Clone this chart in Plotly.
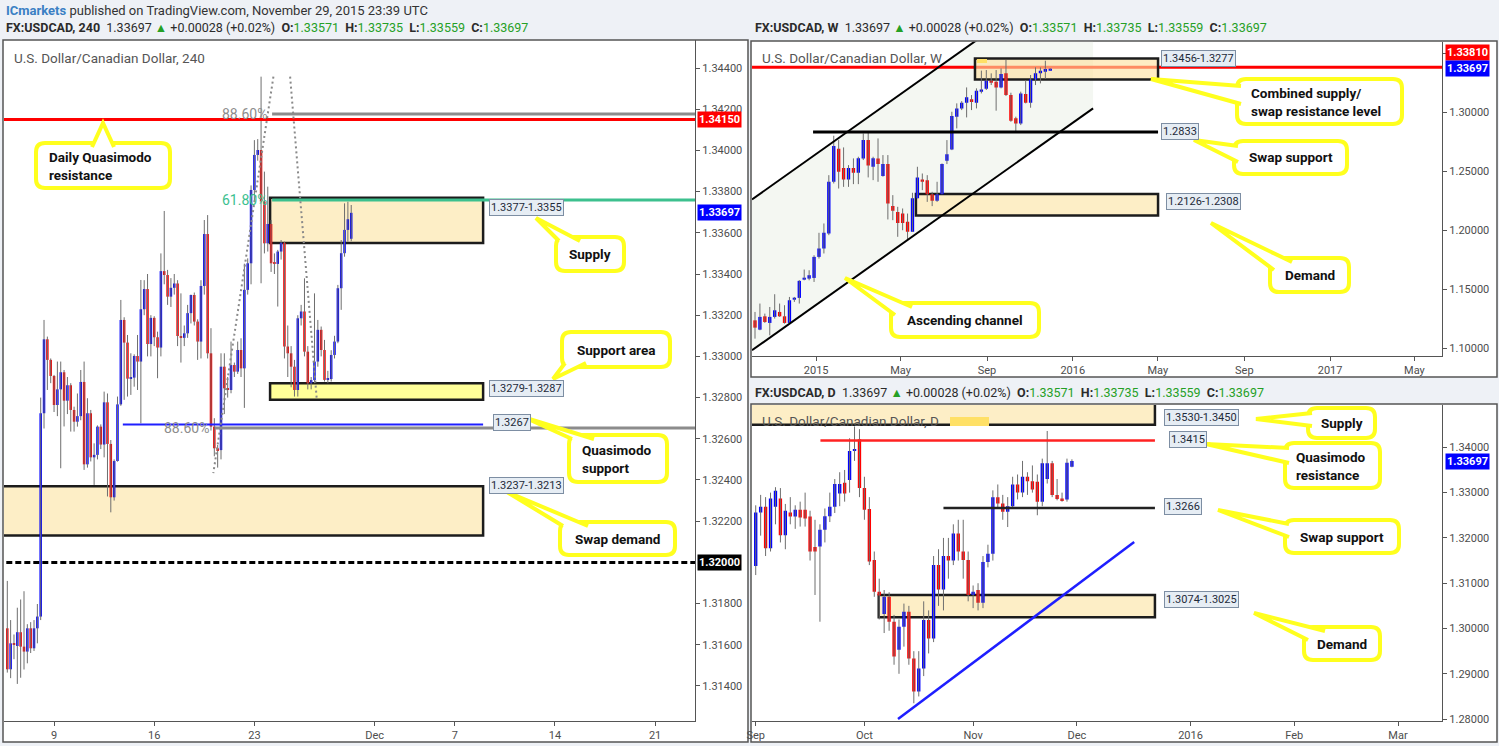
import numpy as np
import plotly.graph_objects as go

W, H = 1499, 746
FONT = "Roboto, 'Open Sans', sans-serif"
BOLDFONT = "Roboto, 'Open Sans', sans-serif"

# ---------------- 4H data (bar index 0 = first bar shown) ----------------
h4_open = [1.31680,1.31481,1.31607,1.31594,1.31661,1.31591,1.31567,1.31680,1.31583,1.31680,
1.31737,1.32724,1.33083,1.32983,1.32905,1.32764,1.32840,1.32923,1.32785,1.32860,
1.32740,1.32683,1.32710,1.32876,1.32476,1.32724,1.32510,1.32522,1.32659,1.32572,
1.32777,1.32575,1.32316,1.32492,1.32767,1.33177,1.33067,1.32892,1.32897,1.33002,
1.32975,1.33229,1.33327,1.33060,1.33187,1.33093,1.33043,1.33414,1.33395,1.33290,
1.33333,1.33354,1.33099,1.33090,1.33112,1.33210,1.33298,1.33169,1.33072,1.33342,
1.33594,1.33015,1.32659,1.32554,1.32545,1.32950,1.32845,1.32837,1.32958,1.32926,
1.33031,1.32942,1.33323,1.33452,1.33808,1.33978,1.34002,1.33752,1.33549,1.33643,
1.33452,1.33449,1.33509,1.33552,1.33048,1.33015,1.32950,1.32837,1.33185,1.33218,
1.33023,1.32869,1.32885,1.32975,1.33129,1.33031,1.32886,1.32890,1.33007,1.33072,
1.33331,1.33501,1.33614,1.33571]
h4_high = [1.31910,1.31720,1.31650,1.31780,1.31820,1.31860,1.31700,1.31710,1.31720,1.31798,
1.32800,1.33177,1.33096,1.32990,1.32910,1.32975,1.32975,1.32934,1.32900,1.32870,
1.32756,1.32820,1.32934,1.32975,1.32797,1.32740,1.32578,1.32665,1.32670,1.32829,
1.32820,1.32594,1.32500,1.32805,1.33274,1.33190,1.33104,1.33015,1.33010,1.33104,
1.33371,1.33370,1.33400,1.33200,1.33195,1.33120,1.33500,1.33706,1.33420,1.33380,
1.33400,1.33370,1.33306,1.33150,1.33250,1.33300,1.33310,1.33180,1.33370,1.33662,
1.33686,1.33137,1.32700,1.32570,1.33015,1.33015,1.32900,1.33072,1.32970,1.33072,
1.33088,1.33450,1.33476,1.33830,1.34050,1.34055,1.34358,1.33897,1.33824,1.33662,
1.33500,1.33517,1.33565,1.33557,1.33150,1.33050,1.32983,1.33200,1.33250,1.33379,
1.33050,1.32900,1.33306,1.33177,1.33145,1.33080,1.32930,1.33030,1.33100,1.33347,
1.33565,1.33743,1.33751,1.33735]
h4_low = [1.31465,1.31438,1.31530,1.31410,1.31440,1.31480,1.31510,1.31560,1.31570,1.31607,
1.31720,1.32650,1.32837,1.32870,1.32730,1.32710,1.32457,1.32660,1.32720,1.32635,
1.32635,1.32659,1.32690,1.32449,1.32460,1.32490,1.32376,1.32500,1.32550,1.32510,
1.32320,1.32243,1.32300,1.32489,1.32760,1.32789,1.32805,1.32813,1.32853,1.32837,
1.32675,1.33200,1.33000,1.33000,1.33050,1.32894,1.33000,1.33350,1.33250,1.33240,
1.33300,1.33050,1.32970,1.33050,1.33090,1.33160,1.33150,1.32983,1.32990,1.33300,
1.32990,1.32640,1.32515,1.32460,1.32500,1.32720,1.32800,1.32821,1.32900,1.32915,
1.32900,1.32750,1.33300,1.33350,1.33750,1.33950,1.33355,1.33500,1.33509,1.33410,
1.33400,1.33242,1.33470,1.32990,1.32900,1.32850,1.32805,1.32805,1.33150,1.33000,
1.32840,1.32840,1.32870,1.32950,1.33000,1.32878,1.32870,1.32878,1.32990,1.33064,
1.33226,1.33484,1.33557,1.33559]
h4_close = [1.31481,1.31607,1.31599,1.31661,1.31591,1.31567,1.31680,1.31583,1.31680,1.31737,
1.32724,1.33083,1.32983,1.32905,1.32764,1.32840,1.32923,1.32785,1.32860,1.32740,
1.32683,1.32710,1.32876,1.32476,1.32724,1.32510,1.32522,1.32659,1.32572,1.32777,
1.32575,1.32316,1.32492,1.32767,1.33177,1.33067,1.32892,1.32897,1.33002,1.32975,
1.33229,1.33327,1.33060,1.33187,1.33093,1.33043,1.33414,1.33395,1.33290,1.33333,
1.33354,1.33099,1.33090,1.33112,1.33210,1.33298,1.33169,1.33072,1.33342,1.33594,
1.33015,1.32659,1.32554,1.32545,1.32950,1.32845,1.32837,1.32958,1.32926,1.33031,
1.32942,1.33323,1.33452,1.33808,1.33978,1.34002,1.33752,1.33549,1.33643,1.33452,
1.33449,1.33509,1.33552,1.33048,1.33015,1.32950,1.32837,1.33185,1.33218,1.33023,
1.32869,1.32885,1.32975,1.33129,1.33031,1.32886,1.32890,1.33007,1.33072,1.33331,
1.33501,1.33614,1.33666,1.33697]
h4_tick_dates = ["2015-11-09", "2015-11-16", "2015-11-23", "2015-12-01", "2015-12-07", "2015-12-14", "2015-12-21"]
h4_tick_text = ["9", "16", "23", "Dec", "7", "14", "21"]
h4_y_ticks = [1.314, 1.316, 1.318, 1.322, 1.324, 1.326, 1.328, 1.330, 1.332, 1.334, 1.336, 1.338, 1.340, 1.342, 1.344]

# ---------------- Weekly data (week 0 = 2014-10-06) ----------------
w_open = [1.1239,1.1160,1.1273,1.1217,1.1268,1.1310,1.1273,1.1217,1.1420,1.1429,
1.1584,1.1592,1.1598,1.1776,1.1847,1.1974,1.2412,1.2692,1.2528,1.2432,
1.2528,1.2488,1.2610,1.2765,1.2539,1.2610,1.2460,1.2562,1.2206,1.2157,
1.2143,1.2073,1.1988,1.2273,1.2432,1.2426,1.2307,1.2251,1.2307,1.2590,
1.2686,1.2963,1.3033,1.3081,1.3110,1.3081,1.3183,1.3200,1.3268,1.3259,
1.3211,1.3330,1.3146,1.2949,1.2906,1.3155,1.3081,1.3279,1.3330,1.3352,
1.33571]
w_high = [1.1310,1.1381,1.1296,1.1352,1.1460,1.1381,1.1367,1.1437,1.1437,1.1580,
1.1669,1.1663,1.1790,1.1980,1.2059,1.2468,1.2802,1.2765,1.2703,1.2553,
1.2610,1.2624,1.2821,1.2827,1.2624,1.2779,1.2638,1.2638,1.2299,1.2200,
1.2186,1.2143,1.2319,1.2539,1.2482,1.2468,1.2327,1.2412,1.2567,1.2765,
1.3005,1.3076,1.3095,1.3211,1.3146,1.3203,1.3353,1.3358,1.3330,1.3358,
1.3372,1.3443,1.3166,1.2963,1.3175,1.3273,1.3316,1.3381,1.3380,1.3437,
1.33735]
w_low = [1.1084,1.1155,1.1217,1.1112,1.1254,1.1268,1.1211,1.1211,1.1395,1.1381,
1.1578,1.1578,1.1564,1.1762,1.1805,1.1960,1.2398,1.2355,1.2369,1.2369,
1.2392,1.2392,1.2596,1.2449,1.2426,1.2412,1.2455,1.2093,1.2087,1.1946,
1.2002,1.1926,1.1988,1.2273,1.2341,1.2242,1.2206,1.2242,1.2307,1.2562,
1.2680,1.2864,1.3019,1.2957,1.3019,1.3033,1.3160,1.3189,1.3231,1.3014,
1.3203,1.3138,1.2920,1.2836,1.2892,1.3076,1.3039,1.3231,1.3245,1.3284,
1.33559]
w_close = [1.1177,1.1268,1.1225,1.1268,1.1324,1.1273,1.1217,1.1409,1.1429,1.1573,
1.1592,1.1621,1.1776,1.1847,1.1980,1.2412,1.2714,1.2497,1.2432,1.2528,
1.2488,1.2612,1.2765,1.2550,1.2612,1.2562,1.2562,1.2228,1.2166,1.2064,
1.2064,1.1988,1.2273,1.2449,1.2420,1.2307,1.2251,1.2307,1.2562,1.2646,
1.2968,1.3033,1.3081,1.3127,1.3087,1.3183,1.3194,1.3268,1.3251,1.3211,
1.3324,1.3146,1.2929,1.2906,1.3160,1.3081,1.3279,1.3330,1.3352,1.3367,
1.33697]
w_first_week = "2014-10-06"
w_tick_dates = ["2015-01-01", "2015-05-01", "2015-09-01", "2016-01-01", "2016-05-01", "2016-09-01", "2017-01-01", "2017-05-01"]
w_tick_text = ["2015", "May", "Sep", "2016", "May", "Sep", "2017", "May"]
w_y_ticks = [1.10, 1.15, 1.20, 1.25, 1.30, 1.35]

# ---------------- Daily data (trading day 0 = 2015-09-01) ----------------
d_open = [1.3138,1.3256,1.3269,1.3177,1.3269,1.3287,1.3206,1.3256,1.3247,1.3262,
1.3262,1.3247,1.3180,1.3181,1.3218,1.3248,1.3269,1.3298,1.3322,1.3328,
1.3392,1.3418,1.3310,1.3264,1.3151,1.3081,1.3032,1.3070,1.3015,1.2953,
1.3004,1.3037,1.2934,1.2861,1.2912,1.3019,1.2978,1.3140,1.3086,1.3160,
1.3150,1.3210,1.3170,1.3151,1.3074,1.3085,1.3057,1.3147,1.3165,1.3290,
1.3276,1.3258,1.3270,1.3318,1.3300,1.3335,1.3325,1.3324,1.3280,1.3330,
1.3365,1.3295,1.3287,1.3285,1.33571]
d_high = [1.3272,1.3295,1.3290,1.3300,1.3312,1.3310,1.3275,1.3290,1.3272,1.3280,
1.3300,1.3260,1.3240,1.3230,1.3265,1.3300,1.3330,1.3345,1.3350,1.3420,
1.3446,1.3440,1.3335,1.3290,1.3170,1.3110,1.3085,1.3080,1.3030,1.3020,
1.3055,1.3050,1.2950,1.2950,1.3060,1.3040,1.3160,1.3175,1.3200,1.3200,
1.3230,1.3240,1.3240,1.3170,1.3095,1.3100,1.3160,1.3185,1.3305,1.3318,
1.3295,1.3290,1.3335,1.3340,1.3370,1.3345,1.3360,1.3340,1.3375,1.3436,
1.3370,1.3330,1.3300,1.3375,1.33735]
d_low = [1.3118,1.3205,1.3160,1.3170,1.3230,1.3190,1.3175,1.3230,1.3220,1.3225,
1.3225,1.3150,1.3074,1.3015,1.3190,1.3235,1.3255,1.3270,1.3280,1.3300,
1.3370,1.3290,1.3240,1.3140,1.3070,1.3020,1.2990,1.2995,1.2920,1.2900,
1.2960,1.2920,1.2835,1.2850,1.2895,1.2945,1.2970,1.3050,1.3040,1.3110,
1.3140,1.3150,1.3110,1.3060,1.3045,1.3040,1.3045,1.3135,1.3150,1.3265,
1.3240,1.3224,1.3265,1.3285,1.3290,1.3295,1.3300,1.3250,1.3270,1.3320,
1.3290,1.3283,1.3280,1.3280,1.33559]
d_close = [1.3256,1.3269,1.3177,1.3287,1.3304,1.3206,1.3260,1.3247,1.3262,1.3245,
1.3243,1.3170,1.3170,1.3218,1.3248,1.3269,1.3319,1.3319,1.3298,1.3392,
1.3394,1.3310,1.3262,1.3148,1.3081,1.3073,1.3070,1.3015,1.2938,1.3004,
1.3037,1.2934,1.2861,1.2912,1.3019,1.2978,1.3140,1.3086,1.3160,1.3150,
1.3210,1.3170,1.3151,1.3074,1.3081,1.3057,1.3147,1.3165,1.3290,1.3276,
1.3258,1.3270,1.3318,1.3300,1.3335,1.3325,1.3307,1.3280,1.3365,1.3365,
1.3295,1.3286,1.3283,1.3366,1.33697]
d_first_day = "2015-09-01"
d_tick_dates = ["2015-09-01", "2015-10-01", "2015-11-02", "2015-12-01", "2016-01-01", "2016-02-01", "2016-03-01"]
d_tick_text = ["Sep", "Oct", "Nov", "Dec", "2016", "Feb", "Mar"]
d_y_ticks = [1.28, 1.29, 1.30, 1.31, 1.32, 1.33, 1.34]

# ---------------- levels / zones (prices) ----------------
last_price = 1.33697
h4_supply = (1.3355, 1.3377)
h4_support_area = (1.3279, 1.3287)
h4_swap_demand = (1.3213, 1.3237)
h4_qm_support = 1.3267
h4_daily_qm = 1.3415
h4_round = 1.3200
h4_fib_886_hi = 1.34177
h4_fib_618 = 1.33759
h4_fib_886_lo = 1.32653
w_supply = (1.3277, 1.3456)
w_demand = (1.2126, 1.2308)
w_swap_support = 1.2833
w_red_level = 1.3381
d_supply = (1.3450, 1.3530)
d_qm_res = 1.3415
d_swap_support = 1.3266
d_demand = (1.3025, 1.3074)

# ---------------- helpers ----------------
def X(p):
    return p / W

def Y(p):
    return 1 - p / H

fig = go.Figure()


def add_candles(o, h, l, c, xs, xa, ya, width, minh):
    o, h, l, c = map(np.asarray, (o, h, l, c))
    wx, wy = [], []
    for xi, hi, lo in zip(xs, h, l):
        wx += [xi, xi, None]
        wy += [lo, hi, None]
    fig.add_trace(go.Scatter(x=wx, y=wy, mode="lines", line=dict(color="#6e6e6e", width=1),
                             xaxis=xa, yaxis=ya, hoverinfo="skip", showlegend=False))
    base = np.minimum(o, c)
    hgt = np.maximum(np.abs(c - o), minh)
    cols = np.where(c >= o, "#0000ff", "#ff0000")
    fig.add_trace(go.Bar(x=list(xs), y=hgt, base=base, width=width,
                         marker=dict(color=list(cols), line=dict(width=0)),
                         xaxis=xa, yaxis=ya, hoverinfo="skip", showlegend=False))


h4_x = np.arange(len(h4_open))
w_x = np.arange(len(w_open))
d_x = np.arange(len(d_open))

add_candles(h4_open, h4_high, h4_low, h4_close, h4_x, "x", "y", 0.75, 6e-5)
add_candles(w_open, w_high, w_low, w_close, w_x, "x2", "y2", 0.68, 9e-4)
add_candles(d_open, d_high, d_low, d_close, d_x, "x3", "y3", 0.68, 2.4e-4)

h4_tickvals = [14 + 6 * int(np.busday_count("2015-11-09", d)) for d in h4_tick_dates]
w_tickvals = [(np.datetime64(d) - np.datetime64(w_first_week)).astype(int) / 7.0 for d in w_tick_dates]
d_tickvals = [int(np.busday_count(d_first_day, d)) for d in d_tick_dates]

shapes = []
ann = []

# panel frames
for (x0, y0, x1, y1) in [(3, 40, 748, 742), (751, 41, 1497, 377), (751, 404, 1497, 742)]:
    shapes.append(dict(type="rect", xref="paper", yref="paper", x0=X(x0), x1=X(x1), y0=Y(y1), y1=Y(y0),
                       line=dict(color="#555555", width=1.5), fillcolor="white", layer="below"))

TAN = "#fdeec6"
BOXLINE = dict(color="#1c1c1c", width=2.5)

# ---- 4H drawings ----
shapes += [
    dict(type="rect", xref="x", yref="y", x0=78.7, x1=142.5, y0=h4_supply[0], y1=h4_supply[1],
         fillcolor=TAN, line=BOXLINE, layer="below"),
    dict(type="rect", xref="x", yref="y", x0=78.7, x1=142.5, y0=h4_support_area[0], y1=h4_support_area[1],
         fillcolor="#ffff99", line=BOXLINE, layer="below"),
    dict(type="rect", xref="x", yref="y", x0=-3, x1=142.5, y0=h4_swap_demand[0], y1=h4_swap_demand[1],
         fillcolor=TAN, line=BOXLINE, layer="below"),
    dict(type="line", xref="x", yref="y", x0=-3, x1=210, y0=h4_daily_qm, y1=h4_daily_qm,
         line=dict(color="#ff0000", width=3)),
    dict(type="line", xref="x", yref="y", x0=-3, x1=210, y0=h4_round, y1=h4_round,
         line=dict(color="#000000", width=3, dash="6px,3px")),
    dict(type="line", xref="x", yref="y", x0=79.3, x1=210, y0=h4_fib_886_hi, y1=h4_fib_886_hi,
         line=dict(color="#8c8c8c", width=3)),
    dict(type="line", xref="x", yref="y", x0=79.3, x1=210, y0=h4_fib_618, y1=h4_fib_618,
         line=dict(color="#3cc08e", width=3)),
    dict(type="line", xref="x", yref="y", x0=62.2, x1=210, y0=h4_fib_886_lo, y1=h4_fib_886_lo,
         line=dict(color="#8c8c8c", width=3)),
    dict(type="line", xref="x", yref="y", x0=34.6, x1=142.5, y0=h4_qm_support, y1=h4_qm_support,
         line=dict(color="#1f1fff", width=2)),
    dict(type="line", xref="x", yref="y", x0=79.7, x1=61.7, y0=1.34358, y1=1.32433,
         line=dict(color="#8a8a8a", width=2, dash="2px,3px")),
    dict(type="line", xref="x", yref="y", x0=84.7, x1=92.7, y0=1.34358, y1=1.32788,
         line=dict(color="#8a8a8a", width=2, dash="2px,3px")),
]

# ---- Weekly drawings ----
ch_path = "M -0.61,1.22624 L 44.51,1.3598 L 68.70,1.3598 L 68.70,1.30335 L -0.61,1.09853 Z"
shapes += [
    dict(type="path", xref="x2", yref="y2", path=ch_path, fillcolor="#f4f7f2", line=dict(width=0), layer="below"),
    dict(type="line", xref="x2", yref="y2", x0=-3, x1=160, y0=w_red_level, y1=w_red_level,
         line=dict(color="#ff0000", width=3), layer="below"),
    dict(type="rect", xref="x2", yref="y2", x0=44.7, x1=81.9, y0=w_supply[0], y1=w_supply[1],
         fillcolor="rgba(253,224,160,0.62)", line=BOXLINE, layer="below"),
    dict(type="rect", xref="x2", yref="y2", x0=32.7, x1=81.9, y0=w_demand[0], y1=w_demand[1],
         fillcolor=TAN, line=BOXLINE, layer="below"),
    dict(type="line", xref="x2", yref="y2", x0=11.8, x1=81.9, y0=w_swap_support, y1=w_swap_support,
         line=dict(color="#000000", width=3)),
    dict(type="line", xref="x2", yref="y2", x0=-0.61, x1=50.0, y0=1.22624, y1=1.22624 + 50.61 * 0.002954,
         line=dict(color="#000000", width=2)),
    dict(type="line", xref="x2", yref="y2", x0=-0.61, x1=68.70, y0=1.09853, y1=1.30335,
         line=dict(color="#000000", width=2)),
    dict(type="rect", xref="paper", yref="paper", x0=X(977), x1=X(987), y0=Y(63), y1=Y(59),
         fillcolor="#ffe066", line=dict(width=0)),
]

# ---- Daily drawings ----
shapes += [
    dict(type="rect", xref="x3", yref="y3", x0=-3, x1=80.8, y0=d_supply[0], y1=d_supply[1],
         fillcolor=TAN, line=BOXLINE, layer="below"),
    dict(type="rect", xref="x3", yref="y3", x0=24.9, x1=80.8, y0=d_demand[0], y1=d_demand[1],
         fillcolor=TAN, line=BOXLINE, layer="below"),
    dict(type="line", xref="x3", yref="y3", x0=13.1, x1=80.8, y0=d_qm_res, y1=d_qm_res,
         line=dict(color="#ff2222", width=2.5)),
    dict(type="line", xref="x3", yref="y3", x0=38.0, x1=80.8, y0=d_swap_support, y1=d_swap_support,
         line=dict(color="#222222", width=2.5)),
    dict(type="line", xref="x3", yref="y3", x0=28.8, x1=76.6, y0=1.28002, y1=1.31909,
         line=dict(color="#1f1fff", width=2.5)),
    dict(type="rect", xref="paper", yref="paper", x0=X(950), x1=X(989), y0=Y(426), y1=Y(417),
         fillcolor="#ffe066", line=dict(width=0)),
]

# ---- value tags ----
def tag(xp, yp, text):
    ann.append(dict(xref="paper", yref="paper", x=X(xp), y=Y(yp), xanchor="left", yanchor="middle",
                    text=text, showarrow=False, font=dict(family=FONT, size=11, color="#1e2b3a"),
                    bgcolor="#e6edf4", bordercolor="#7d8ea3", borderwidth=1, borderpad=1))

tag(489, 207, "1.3377-1.3355")
tag(489, 388, "1.3279-1.3287")
tag(493, 422, "1.3267")
tag(489, 485, "1.3237-1.3213")
tag(1161, 58, "1.3456-1.3277")
tag(1161, 131, "1.2833")
tag(1166, 201, "1.2126-1.2308")
tag(1164, 417, "1.3530-1.3450")
tag(1169, 440, "1.3415")
tag(1164, 506, "1.3266")
tag(1164, 599, "1.3074-1.3025")

# ---- axis price labels ----
def plabel(xp, y, yref, text, bg):
    ann.append(dict(xref="paper", yref=yref, x=X(xp), y=y, xanchor="left", yanchor="middle",
                    text="<b>%s</b>" % text, showarrow=False, font=dict(family=FONT, size=11, color="white"),
                    bgcolor=bg, borderpad=1))

plabel(697, h4_daily_qm, "y", "1.34150", "#ff0000")
plabel(697, last_price, "y", "1.33697", "#0000ff")
plabel(697, h4_round, "y", "1.32000", "#000000")
plabel(1445, Y(52), "paper", "1.33810", "#ff0000")
plabel(1445, last_price, "y2", "1.33697", "#0000ff")
plabel(1445, last_price, "y3", "1.33697", "#0000ff")

# ---- fib texts ----
for (xp, yp, t, col) in [(269, 114, "88.60%", "#8c8c8c"), (269, 200, "61.80%", "#3cc08e"), (211, 428, "88.60%", "#8c8c8c")]:
    ann.append(dict(xref="paper", yref="paper", x=X(xp), y=Y(yp), xanchor="right", yanchor="middle",
                    text=t, showarrow=False, font=dict(family=FONT, size=14, color=col)))

# ---- chart titles ----
for (xp, yp, t) in [(12, 58, "U.S. Dollar/Canadian Dollar, 240"), (760, 58, "U.S. Dollar/Canadian Dollar, W"),
                    (760, 421, "U.S. Dollar/Canadian Dollar, D")]:
    ann.append(dict(xref="paper", yref="paper", x=X(xp), y=Y(yp), xanchor="left", yanchor="middle",
                    text=t, showarrow=False, font=dict(family=FONT, size=13.5, color="#555555")))

# ---- headers ----
G = "#25a025"
def header(xp, yp, name):
    txt = ("<b>%s</b>  1.33697 <span style='color:%s'>▲</span> +0.00028 (+0.02%%)  "
           "<b>O:</b><span style='color:%s'>1.33571</span>  <b>H:</b><span style='color:%s'>1.33735</span>  "
           "<b>L:</b><span style='color:%s'>1.33559</span>  <b>C:</b><span style='color:%s'>1.33697</span>") % (name, G, G, G, G, G)
    ann.append(dict(xref="paper", yref="paper", x=X(xp), y=Y(yp), xanchor="left", yanchor="middle",
                    text=txt, showarrow=False, font=dict(family=FONT, size=12.5, color="#2b2b2b")))

ann.append(dict(xref="paper", yref="paper", x=X(4), y=Y(10), xanchor="left", yanchor="middle",
                text="<span style='color:#3a80c4'><b>ICmarkets</b></span> published on TradingView.com, November 29, 2015 23:39 UTC",
                showarrow=False, font=dict(family=FONT, size=13, color="#333333")))
header(4, 27, "FX:USDCAD, 240")
header(753, 27, "FX:USDCAD, W")
header(753, 392, "FX:USDCAD, D")

# ---- callouts ----
def rrect(x0, y0, x1, y1, r=9):
    return ("M {a},{b} L {c},{b} Q {d},{b} {d},{e} L {d},{f} Q {d},{g} {c},{g} L {a},{g} "
            "Q {h},{g} {h},{f} L {h},{e} Q {h},{b} {a},{b} Z").format(
        a=X(x0 + r), b=Y(y0), c=X(x1 - r), d=X(x1), e=Y(y0 + r), f=Y(y1 - r), g=Y(y1), h=X(x0))

YEL = "#ffff1e"
def callout(box, tip, b1, b2, text, left=None):
    x0, y0, x1, y1 = box
    shapes.append(dict(type="path", xref="paper", yref="paper", path=rrect(x0, y0, x1, y1),
                       fillcolor="white", line=dict(color=YEL, width=4)))
    p = "M {},{} L {},{} L {},{}".format(X(b1[0]), Y(b1[1]), X(tip[0]), Y(tip[1]), X(b2[0]), Y(b2[1]))
    shapes.append(dict(type="path", xref="paper", yref="paper", path=p, fillcolor="white",
                       line=dict(color=YEL, width=4)))
    if left is None:
        ann.append(dict(xref="paper", yref="paper", x=X((x0 + x1) / 2), y=Y((y0 + y1) / 2), xanchor="center",
                        yanchor="middle", text="<b>%s</b>" % text, showarrow=False, align="center",
                        font=dict(family=BOLDFONT, size=13.5, color="#111111")))
    else:
        ann.append(dict(xref="paper", yref="paper", x=X(left), y=Y((y0 + y1) / 2), xanchor="left",
                        yanchor="middle", text="<b>%s</b>" % text, showarrow=False, align="left",
                        font=dict(family=BOLDFONT, size=13.5, color="#111111")))

callout((36, 143, 170, 188), (103, 123), (92, 147), (114, 147), "Daily Quasimodo<br>resistance", left=47)
callout((556, 237, 624, 271), (536, 218), (559, 241), (580, 241), "Supply")
callout((562, 332, 670, 367), (553, 379), (565, 363), (586, 363), "Support area")
callout((569, 435, 667, 482), (526, 418), (572, 439), (594, 439), "Quasimodo<br>support", left=580)
callout((560, 522, 675, 555), (507, 492), (563, 526), (588, 526), "Swap demand")
callout((1237, 79, 1402, 124), (1151, 79), (1241, 86), (1241, 104), "Combined supply/<br>swap resistance level", left=1249)
callout((1234, 141, 1347, 174), (1194, 140), (1238, 146), (1238, 162), "Swap support")
callout((1270, 258, 1349, 292), (1211, 223), (1274, 270), (1292, 262), "Demand")
callout((891, 303, 1039, 337), (845, 278), (895, 315), (912, 307), "Ascending channel")
callout((1308, 408, 1375, 438), (1256, 419), (1312, 413), (1312, 426), "Supply")
callout((1285, 443, 1380, 488), (1206, 444), (1289, 448), (1289, 463), "Quasimodo<br>resistance", left=1294)
callout((1285, 520, 1399, 553), (1218, 510), (1289, 524), (1289, 537), "Swap support")
callout((1304, 627, 1380, 660), (1254, 613), (1308, 640), (1325, 631), "Demand")

# ---- axes ----
def axstyle(**kw):
    d = dict(showgrid=False, zeroline=False, showline=True, linecolor="#555555", linewidth=1.2,
             ticks="outside", ticklen=4, tickcolor="#555555", automargin=False,
             tickfont=dict(family=FONT, size=11, color="#4d4d4d"), fixedrange=True)
    d.update(kw)
    return d

fig.update_layout(
    width=W, height=H, margin=dict(l=0, r=0, t=0, b=0, autoexpand=False),
    paper_bgcolor="#eef1f6", plot_bgcolor="white", showlegend=False, hovermode=False,
    barmode="overlay",
    xaxis=axstyle(domain=[X(4), X(695)], anchor="y", range=[-0.99, 205.96],
                  tickvals=h4_tickvals, ticktext=h4_tick_text),
    yaxis=axstyle(domain=[Y(721), Y(40)], anchor="x", side="right", range=[1.31230, 1.34536],
                  tickvals=h4_y_ticks, tickformat=".5f"),
    xaxis2=axstyle(domain=[X(752), X(1442)], anchor="y2", range=[-0.61, 139.6],
                   tickvals=w_tickvals, ticktext=w_tick_text),
    yaxis2=axstyle(domain=[Y(356), Y(41.7)], anchor="x2", side="right", range=[1.0937, 1.3598],
                   tickvals=w_y_ticks, tickformat=".5f"),
    xaxis3=axstyle(domain=[X(752), X(1442)], anchor="y3", range=[-0.75, 138.9],
                   tickvals=d_tickvals, ticktext=d_tick_text),
    yaxis3=axstyle(domain=[Y(720.7), Y(405)], anchor="x3", side="right", range=[1.27965, 1.34934],
                   tickvals=d_y_ticks, tickformat=".5f"),
    shapes=shapes, annotations=ann,
)

fig.write_html("out.html", config={"displayModeBar": False},
               post_script="document.body.style.margin='0';document.body.style.overflow='hidden';"
                           "document.body.style.background='#eef1f6';")
